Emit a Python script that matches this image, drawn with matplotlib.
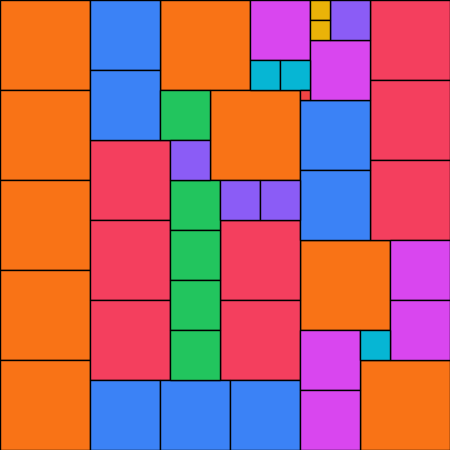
import matplotlib
matplotlib.use("Agg")
import matplotlib.pyplot as plt
from matplotlib.patches import Rectangle

# square packing: top-left x, top-left y, side length (pixel units, 450 canvas)
sq_x = [0, 0, 0, 0, 0, 160, 210, 300, 360,
        370, 370, 370, 90, 90, 90, 220, 220,
        90, 90, 300, 300, 90, 160, 230,
        250, 310, 390, 390, 300, 300,
        160, 170, 170, 170, 170,
        330, 170, 220, 260,
        250, 280, 360,
        310, 310,
        300]
sq_y = [0, 90, 180, 270, 360, 0, 90, 240, 360,
        0, 80, 160, 140, 220, 300, 220, 300,
        0, 70, 100, 170, 380, 380, 380,
        0, 40, 240, 300, 330, 390,
        90, 180, 230, 280, 330,
        0, 140, 180, 180,
        60, 60, 330,
        0, 20,
        90]
sq_s = [90, 90, 90, 90, 90, 90, 90, 90, 90,
        80, 80, 80, 80, 80, 80, 80, 80,
        70, 70, 70, 70, 70, 70, 70,
        60, 60, 60, 60, 60, 60,
        50, 50, 50, 50, 50,
        40, 40, 40, 40,
        30, 30, 30,
        20, 20,
        10]

size_colors = {90: "#f97316", 80: "#f43f5e", 70: "#3b82f6", 60: "#d946ef",
               50: "#22c55e", 40: "#8b5cf6", 30: "#06b6d4", 20: "#eab308",
               10: "#ef4444"}

fig = plt.figure(figsize=(4.5, 4.5), dpi=100)
ax = fig.add_axes([0, 0, 1, 1])
for x, y, s in zip(sq_x, sq_y, sq_s):
    ax.add_patch(Rectangle((x, y), s, s, facecolor=size_colors[s],
                           edgecolor="black", linewidth=1))
ax.set_xlim(0, 450)
ax.set_ylim(450, 0)
ax.axis("off")
fig.savefig("out.png", dpi=100)
